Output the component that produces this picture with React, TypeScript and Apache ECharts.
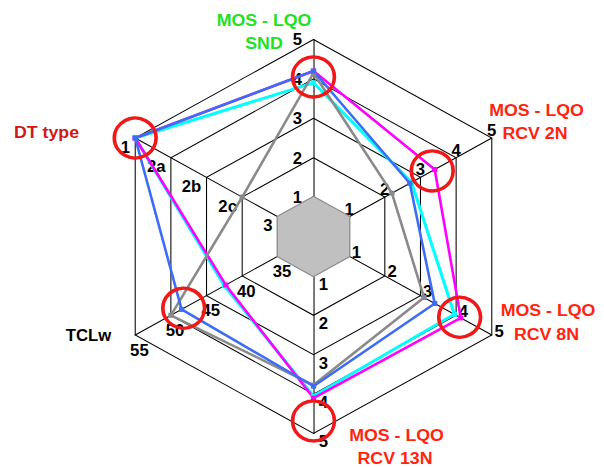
import React, { useEffect, useRef } from 'react';
import * as echarts from 'echarts';

// Axes, counter-clockwise from the top
const axisNames = ['MOS - LQO SND', 'DT type', 'TCLw', 'MOS - LQO RCV 13N', 'MOS - LQO RCV 8N', 'MOS - LQO RCV 2N'];
// Tick labels for levels 1..5
const mosTicks = ['1', '2', '3', '4', '5'];
const dtTypeTicks = ['3', '2c', '2b', '2a', '1'];
const tclwTicks = ['35', '40', '45', '50', '55'];

// Values: [SND, DT type, TCLw, RCV 13N, RCV 8N, RCV 2N]
const magentaValues: (number | string)[] = [4.2, '1', 42.3, 4.1, 4.13, 3.4];
const cyanValues: (number | string)[] = [3.9, '1', 42.5, 4.05, 3.95, 2.75];
const blueValues: (number | string)[] = [4.2, '1', 48.5, 3.8, 3.4, 2.7];
const greyValues: (number | string)[] = [4.15, '2c', 50, 3.77, 3.1, 2.2];
// Red highlight circles
const highlightValues: (number | string)[] = [4.05, '1', 48.2, 4.68, 4.1, 3.33];
// Inner reference hexagon (level 1 on every axis)
const innerValues: (number | string)[] = [1, '3', 35, 1, 1, 1];

const SX = 1.045;
const FONT = '"Liberation Sans", Arial, Helvetica, sans-serif';

function toLevel(v: number | string, axis: number): number {
  if (axis === 1) return dtTypeTicks.indexOf(String(v)) + 1;
  if (axis === 2) return ((v as number) - 30) / 5;
  return v as number;
}
const levels = (arr: (number | string)[]) => arr.map((v, i) => toLevel(v, i));
const tickSets = [mosTicks, dtTypeTicks, tclwTicks, mosTicks, mosTicks, mosTicks];
// label placement per axis (style only)
const labelPlacement: any[] = [
  { margin: 11, align: 'right', verticalAlign: 'middle' },
  { margin: 10 },
  { margin: 8, align: 'center', verticalAlign: 'top' },
  { margin: 5, align: 'left', verticalAlign: 'top' },
  { margin: 5, align: 'left', verticalAlign: 'middle' },
  { margin: 9, align: 'left', verticalAlign: 'middle' },
];

export default function App() {
  const ref = useRef<HTMLDivElement>(null);
  useEffect(() => {
    document.body.style.margin = '0';
    const chart = echarts.init(ref.current!, null, { renderer: 'svg' });
    const lineItem = (name: string, vals: (number | string)[], color: string, width: number) => ({
      name,
      value: levels(vals),
      symbol: 'rect',
      symbolSize: 5,
      itemStyle: { color },
      lineStyle: { color, width },
    });
    const txt = (text: string, x: number, y: number, color: string, size: number) => ({
      type: 'text',
      x: x / SX,
      y,
      style: {
        text,
        fill: color,
        font: `bold ${size}px ${FONT}`,
        align: 'center',
        verticalAlign: 'middle',
      },
    });
    const red = '#ff2410';
    chart.setOption({
      animation: false,
      backgroundColor: '#ffffff',
      radar: {
        center: [313.5 / SX, 236.5],
        radius: 197,
        startAngle: 90,
        splitNumber: 5,
        shape: 'polygon',
        axisName: { show: false },
        axisLine: { show: true, lineStyle: { color: '#000', width: 1 } },
        splitLine: { lineStyle: { color: '#000', width: 1 } },
        splitArea: { show: false },
        axisTick: { show: false },
        axisLabel: { show: true, color: '#000', fontWeight: 'bold', fontSize: 16, fontFamily: FONT },
        indicator: axisNames.map((name, i) => ({
          name,
          min: 0,
          max: 5,
          axisLabel: {
            show: true,
            color: '#000',
            fontWeight: 'bold',
            fontSize: 16,
            fontFamily: FONT,
            ...labelPlacement[i],
            formatter: (v: number) => (v <= 0 ? '' : tickSets[i][Math.round(v) - 1]),
          },
        })),
      },
      series: [
        {
          type: 'radar',
          data: [
            {
              name: 'inner',
              value: levels(innerValues),
              symbol: 'none',
              itemStyle: { color: '#8c8c8c' },
              lineStyle: { color: '#8c8c8c', width: 2.5 },
              areaStyle: { color: '#c0c0c0', opacity: 1 },
            },
            lineItem('cyan', cyanValues, '#00ffff', 3),
            lineItem('magenta', magentaValues, '#ff00ff', 2.5),
            lineItem('grey', greyValues, '#8a8a8a', 2.5),
            lineItem('blue', blueValues, '#3d6cf5', 2.5),
            {
              name: 'highlight',
              value: levels(highlightValues),
              symbol: 'circle',
              symbolSize: 40,
              itemStyle: { color: 'rgba(0,0,0,0)', borderColor: '#f01818', borderWidth: 3.5 },
              lineStyle: { width: 0, opacity: 0 },
            },
          ],
        },
      ],
      graphic: [
        txt('MOS - LQO', 264, 20, '#22e022', 17),
        txt('SND', 264, 43.5, '#22e022', 17),
        txt('DT type', 46.5, 132, '#d01818', 17),
        txt('MOS - LQO', 536.5, 110, red, 17),
        txt('RCV 2N', 535, 133, red, 17),
        txt('MOS - LQO', 548, 310.5, red, 17),
        txt('RCV 8N', 546.5, 334.5, red, 17),
        txt('MOS - LQO', 396.5, 435, red, 17),
        txt('RCV 13N', 395, 458, red, 17),
        txt('TCLw', 88.5, 335, '#000', 16),
      ],
    });
    return () => chart.dispose();
  }, []);
  return (
    <div
      ref={ref}
      style={{
        position: 'absolute',
        left: 0,
        top: 0,
        width: 604 / SX,
        height: 467,
        transform: `scaleX(${SX})`,
        transformOrigin: '0 0',
      }}
    />
  );
}
